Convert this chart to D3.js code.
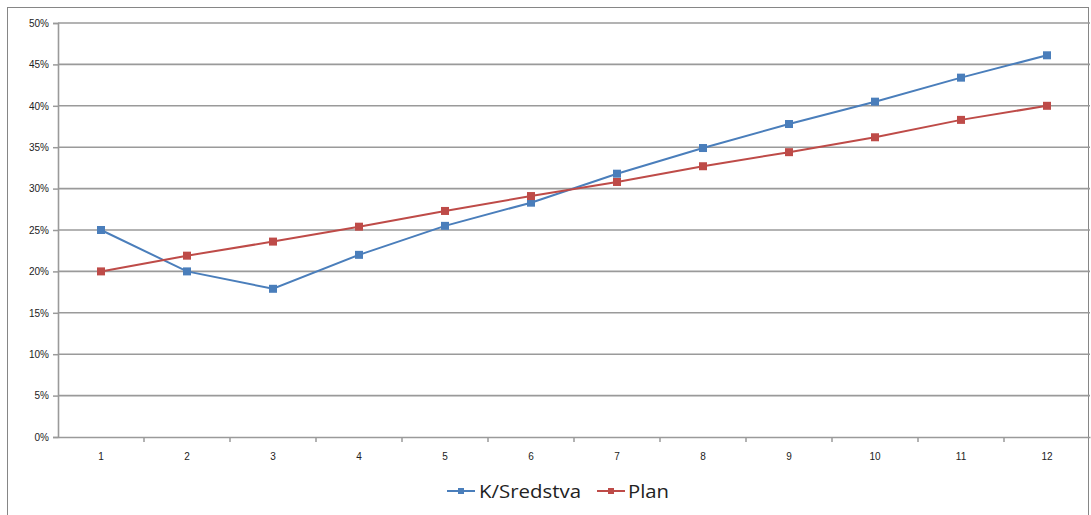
<!DOCTYPE html>
<html><head><meta charset="utf-8">
<script src="https://cdn.jsdelivr.net/npm/d3@7"></script>
<style>body{margin:0;background:#fff}svg{display:block}</style>
</head><body><svg id="c" width="1091" height="515"></svg>
<script>
const categories = ["1","2","3","4","5","6","7","8","9","10","11","12"];
const sredstva = [25.0, 20.0, 17.9, 22.0, 25.5, 28.3, 31.8, 34.9, 37.8, 40.5, 43.4, 46.1];
const plan = [20.0, 21.9, 23.6, 25.4, 27.3, 29.1, 30.8, 32.7, 34.4, 36.2, 38.3, 40.0];
const yTicks = [0,5,10,15,20,25,30,35,40,45,50];
const seriesNames = ["K/Sredstva", "Plan"];
const colors = ["#4A7EBB", "#BE4B48"];

(function(){
const svg = d3.select("#c");
const mL = 58, mR = 1090, mT = 23, mB = 437;
svg.append("rect").attr("x",7.5).attr("y",7.5).attr("width",1081).attr("height",520)
  .attr("fill","#fff").attr("stroke","#868686").attr("stroke-width",1);

const x = d3.scaleBand().domain(categories).range([mL, mR]);
const y = d3.scaleLinear().domain([0,50]).range([mB, mT]);
const gridC = "#9a9a9a";

svg.append("g").selectAll("line").data(yTicks.filter(d=>d>0)).join("line")
  .attr("x1",mL).attr("x2",mR).attr("y1",d=>y(d)).attr("y2",d=>y(d))
  .attr("stroke",gridC).attr("stroke-width",1.6);

const font = "'Liberation Sans', Arial, sans-serif";
const ya = svg.append("g").attr("transform",`translate(${mL},0)`)
  .call(d3.axisLeft(y).tickValues(yTicks).tickFormat(d=>d+"%").tickSize(5).tickPadding(4));
ya.select(".domain").attr("stroke",gridC).attr("stroke-width",1.6);
ya.selectAll(".tick line").attr("stroke",gridC).attr("stroke-width",1.5);
ya.selectAll("text").attr("font-family",font).attr("font-size",10).attr("fill","#222");

const xa = svg.append("g").attr("transform",`translate(0,${mB})`)
  .call(d3.axisBottom(x).tickSize(0).tickPadding(16));
xa.select(".domain").attr("stroke",gridC).attr("stroke-width",1.6);
xa.selectAll("text").attr("font-family",font).attr("font-size",10).attr("fill","#222");
svg.append("g").selectAll("line").data(categories.slice(1)).join("line")
  .attr("x1",d=>x(d)).attr("x2",d=>x(d)).attr("y1",mB).attr("y2",mB+5)
  .attr("stroke",gridC).attr("stroke-width",1.5);

const cx = d => x(d) + x.bandwidth()/2;
[sredstva, plan].forEach((vals, i) => {
  const data = categories.map((c,j)=>({c, v: vals[j]}));
  svg.append("path").datum(data)
    .attr("d", d3.line().x(d=>cx(d.c)).y(d=>y(d.v)))
    .attr("fill","none").attr("stroke",colors[i]).attr("stroke-width",2);
  svg.append("g").selectAll("rect").data(data).join("rect")
    .attr("x",d=>cx(d.c)-4).attr("y",d=>y(d.v)-4).attr("width",8).attr("height",8)
    .attr("fill",colors[i]);
});

const lg = svg.append("g");
const items = [{x:447, tx:479, w:102}, {x:597, tx:628, w:41}];
seriesNames.forEach((n,i)=>{
  const it = items[i];
  lg.append("line").attr("x1",it.x).attr("x2",it.x+28).attr("y1",491).attr("y2",491)
    .attr("stroke",colors[i]).attr("stroke-width",2);
  lg.append("rect").attr("x",it.x+11).attr("y",488).attr("width",6).attr("height",6).attr("fill",colors[i]);
  lg.append("text").attr("x",it.tx).attr("y",498).text(n)
    .attr("textLength", it.w).attr("lengthAdjust","spacingAndGlyphs")
    .attr("font-family","'Open Sans', sans-serif").attr("font-size",19).attr("fill","#222");
});
})();
</script></body></html>
